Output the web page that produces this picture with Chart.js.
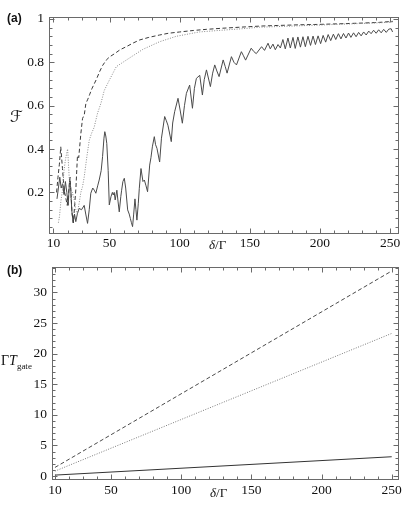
<!DOCTYPE html>
<html>
<head>
<meta charset="utf-8">
<title>Fidelity and gate time vs detuning</title>
<script src="https://cdn.jsdelivr.net/npm/chart.js@4"></script>
<style>
    html, body { margin: 0; padding: 0; background: #fff; }
    .panel { position: absolute; left: 0; width: 415px; }
    #panelA { top: 0; height: 252px; }
    #panelB { top: 252px; height: 256px; }
</style>
</head>
<body>
<div class="panel" id="panelA"><canvas id="chartA" width="415" height="252"></canvas></div>
<div class="panel" id="panelB"><canvas id="chartB" width="415" height="256"></canvas></div>
<script>
// ==========================================
// DATOS
// ==========================================

// (a) fidelidad F vs delta/Gamma
const solidX = [12.5, 13.5, 14.5, 15.5, 16.5, 17.5, 18.5, 19.5, 20.5, 21.5, 22.3, 23, 24, 25, 25.9, 27, 28.3, 30, 31.9, 33, 34.3, 35.5, 36.6, 38, 39.1, 40.2, 41.5, 42.6, 44, 45, 46, 46.6, 47.3, 48, 49, 49.8, 51, 52, 52.6, 53.3, 54, 55.2, 56, 56.9, 58, 58.6, 59.5, 60.5, 61.5, 62.9, 64, 64.8, 65.6, 66.4, 67.2, 68.1, 68.8, 69.5, 70.5, 71.2, 72.4, 73.8, 74.8, 76, 77.1, 78.6, 79.5, 80.5, 81.9, 82.8, 83.8, 85.7, 87, 89.3, 90.5, 91.6, 94, 95, 96.4, 98.8, 100.3, 101.9, 103.4, 104.8, 107.1, 109.1, 110.5, 111.9, 114.3, 116.2, 117.5, 119.1, 121.9, 123.5, 125, 126.5, 128.1, 131, 132.5, 133.8, 136.9, 138.7, 140.5, 144, 145.5, 147, 151, 152.8, 154.6, 158.4, 160.5, 163, 164.6, 166.5, 168.2, 170.1, 171.8, 173.6, 175.3, 177.2, 178.9, 180.8, 182.4, 184.3, 186.1, 187.9, 189.6, 191.5, 193.3, 195.1, 196.8, 198.7, 200.5, 202.3, 204.1, 205.9, 207.7, 209.6, 211.3, 213.2, 215, 216.8, 218.6, 220.4, 222.1, 224, 225.8, 227.6, 229.4, 231.2, 233, 234.8, 236.5, 238.3, 240.1, 241.9, 243.7, 245.5, 247.3, 249.1, 250.8, 251.8];
const solidF = [0.17, 0.22, 0.27, 0.22, 0.24, 0.19, 0.25, 0.2, 0.14, 0.26, 0.22, 0.12, 0.06, 0.1, 0.065, 0.1, 0.126, 0.12, 0.14, 0.1, 0.057, 0.12, 0.196, 0.22, 0.21, 0.196, 0.23, 0.257, 0.3, 0.365, 0.45, 0.48, 0.46, 0.426, 0.3, 0.142, 0.18, 0.2, 0.188, 0.2, 0.165, 0.21, 0.16, 0.11, 0.18, 0.21, 0.25, 0.265, 0.22, 0.119, 0.1, 0.08, 0.06, 0.042, 0.1, 0.17, 0.12, 0.072, 0.15, 0.219, 0.31, 0.25, 0.257, 0.23, 0.203, 0.326, 0.36, 0.41, 0.457, 0.42, 0.403, 0.34, 0.45, 0.55, 0.53, 0.51, 0.434, 0.52, 0.572, 0.634, 0.58, 0.519, 0.6, 0.657, 0.695, 0.588, 0.68, 0.726, 0.74, 0.649, 0.72, 0.765, 0.688, 0.75, 0.788, 0.76, 0.734, 0.811, 0.78, 0.75, 0.826, 0.8, 0.788, 0.849, 0.83, 0.81, 0.865, 0.85, 0.84, 0.872, 0.855, 0.888, 0.862, 0.884, 0.858, 0.882, 0.866, 0.905, 0.862, 0.912, 0.866, 0.915, 0.864, 0.917, 0.87, 0.918, 0.872, 0.92, 0.878, 0.921, 0.882, 0.922, 0.886, 0.924, 0.893, 0.928, 0.9, 0.93, 0.905, 0.932, 0.908, 0.933, 0.912, 0.935, 0.915, 0.936, 0.918, 0.938, 0.922, 0.94, 0.926, 0.944, 0.932, 0.948, 0.934, 0.95, 0.936, 0.952, 0.938, 0.953, 0.955, 0.94];

const dashedX = [12.2, 13.2, 14.2, 15.2, 16.4, 17.6, 18.6, 19.8, 20.8, 21.8, 22.5, 23.3, 24.2, 25.2, 26, 27.1, 28, 29.5, 30.7, 32, 33.1, 34.5, 35.7, 37.5, 40.5, 42.9, 45, 47.6, 50, 53.6, 57.5, 61.9, 66.5, 71.4, 78, 85.7, 92, 100, 110, 119, 130, 143, 157, 170, 185, 200, 215, 230, 242, 252];
const dashedF = [0.2, 0.27, 0.33, 0.41, 0.31, 0.21, 0.18, 0.14, 0.2, 0.27, 0.19, 0.1, 0.06, 0.15, 0.22, 0.37, 0.36, 0.47, 0.54, 0.56, 0.61, 0.63, 0.65, 0.68, 0.72, 0.757, 0.785, 0.81, 0.825, 0.84, 0.858, 0.872, 0.888, 0.903, 0.915, 0.926, 0.934, 0.94, 0.947, 0.952, 0.957, 0.962, 0.967, 0.97, 0.973, 0.975, 0.978, 0.981, 0.984, 0.989];

const dottedX = [13.5, 14.3, 15.3, 16.4, 17.5, 18.5, 19.4, 20.1, 21.2, 22.4, 23.5, 24.8, 25.9, 27, 28.3, 29.5, 30.7, 31.9, 33.8, 35.5, 37, 39, 41.4, 43.8, 46.2, 50, 54.8, 59.5, 66.6, 73.8, 85.7, 97.6, 114, 130, 145, 157, 175, 200, 225, 245, 252];
const dottedF = [0.06, 0.09, 0.16, 0.21, 0.3, 0.35, 0.38, 0.4, 0.27, 0.165, 0.2, 0.165, 0.12, 0.1, 0.15, 0.2, 0.226, 0.27, 0.365, 0.44, 0.47, 0.5, 0.565, 0.61, 0.67, 0.72, 0.78, 0.8, 0.83, 0.86, 0.895, 0.92, 0.94, 0.948, 0.955, 0.962, 0.966, 0.972, 0.978, 0.983, 0.986];

// (b) tiempo de compuerta Gamma*T_gate vs delta/Gamma
const gateX = [10, 250];
const gateSolid = [0.15, 3.15];
const gateDashed = [1.4, 33.5];
const gateDotted = [0.8, 23.3];

// marcas de los ejes
const xTicks = [10, 50, 100, 150, 200, 250];
const fTicks = [0.2, 0.4, 0.6, 0.8, 1];
const tTicks = [0, 5, 10, 15, 20, 25, 30];

// ==========================================
// AUXILIARES
// ==========================================
const SERIF = "'Liberation Serif', 'DejaVu Serif', serif";
const SANS = "'Liberation Sans', 'DejaVu Sans', sans-serif";

function toPoints(xs, ys) {
    return xs.map((v, i) => ({ x: v, y: ys[i] }));
}

function steps(from, to, step) {
    const vals = [];
    for (let v = from; v <= to + 1e-9; v += step) vals.push(+v.toFixed(4));
    return vals;
}

// marco con marcas hacia adentro en los cuatro lados
const frameTicks = {
    id: 'frameTicks',
    afterDatasetsDraw(chart, args, opts) {
        const { ctx, chartArea: a, scales: { x, y } } = chart;
        const L = a.left + 0.5, R = a.right - 0.5, T = a.top + 0.5, B = a.bottom - 0.5;
        ctx.save();
        ctx.strokeStyle = '#6a6a6a';
        ctx.lineWidth = 1;
        ctx.strokeRect(L, T, R - L, B - T);
        ctx.beginPath();
        const xMark = (v, len) => {
            const px = Math.round(x.getPixelForValue(v)) + 0.5;
            if (px < L || px > R) return;
            ctx.moveTo(px, B); ctx.lineTo(px, B - len);
            ctx.moveTo(px, T); ctx.lineTo(px, T + len);
        };
        const yMark = (v, len) => {
            const py = Math.round(y.getPixelForValue(v)) + 0.5;
            if (py < T || py > B) return;
            ctx.moveTo(L, py); ctx.lineTo(L + len, py);
            ctx.moveTo(R, py); ctx.lineTo(R - len, py);
        };
        opts.xMinor.forEach(v => xMark(v, 3));
        opts.yMinor.forEach(v => yMark(v, 3));
        opts.xMajor.forEach(v => xMark(v, 5));
        opts.yMajor.forEach(v => yMark(v, 5));
        ctx.stroke();
        ctx.restore();
    }
};

// textos: etiqueta del panel, eje y (horizontal) y delta/Gamma
const panelText = {
    id: 'panelText',
    afterDraw(chart, args, opts) {
        const ctx = chart.ctx;
        ctx.save();
        ctx.fillStyle = '#111';
        ctx.textBaseline = 'alphabetic';
        ctx.textAlign = 'left';
        ctx.font = 'bold 12px ' + SANS;
        ctx.fillText(opts.panel, 7, opts.panelY);

        // delta / Gamma
        ctx.font = 'italic 13px ' + SERIF;
        let x0 = opts.xLabel[0];
        ctx.fillText('δ', x0, opts.xLabel[1]);
        x0 += ctx.measureText('δ').width;
        ctx.font = '13px ' + SERIF;
        ctx.fillText('/Γ', x0, opts.xLabel[1]);

        opts.drawYLabel(ctx);
        ctx.restore();
    }
};

function baseOptions(cfg) {
    return {
        responsive: false,
        animation: false,
        layout: { padding: { top: cfg.top, right: 16, left: 0, bottom: 0 } },
        plugins: {
            legend: { display: false },
            tooltip: { enabled: false },
            frameTicks: cfg.frame,
            panelText: cfg.text
        },
        elements: { point: { radius: 0 }, line: { tension: 0, borderWidth: 1 } },
        scales: {
            x: {
                type: 'linear',
                min: cfg.xMin,
                max: cfg.xMax,
                grid: { display: false, drawTicks: false },
                border: { display: false },
                afterBuildTicks: s => { s.ticks = xTicks.map(v => ({ value: v })); },
                afterFit: s => { s.height = cfg.xHeight; },
                ticks: {
                    autoSkip: false, maxRotation: 0, padding: cfg.xPad,
                    color: '#111', font: { family: SERIF, size: 13.5 }
                }
            },
            y: {
                type: 'linear',
                min: cfg.yMin,
                max: cfg.yMax,
                grid: { display: false, drawTicks: false },
                border: { display: false },
                afterBuildTicks: s => { s.ticks = cfg.yTicks.map(v => ({ value: v })); },
                afterFit: s => { s.width = cfg.yWidth; },
                ticks: {
                    autoSkip: false, padding: 5,
                    color: '#111', font: { family: SERIF, size: 13.5 },
                    callback: cfg.yFormat
                }
            }
        }
    };
}

// ==========================================
// GRÁFICOS
// ==========================================
new Chart(document.getElementById('chartA'), {
    type: 'line',
    data: {
        datasets: [
            { data: toPoints(dottedX, dottedF), borderColor: '#8a8a8a', borderDash: [1, 1.5] },
            { data: toPoints(dashedX, dashedF), borderColor: '#3a3a3a', borderDash: [4, 2.5] },
            { data: toPoints(solidX, solidF), borderColor: '#4a4a4a' }
        ]
    },
    options: baseOptions({
        top: 17, xMin: 6.8, xMax: 256.4, yMin: 0.008, yMax: 1.009,
        xHeight: 18, yWidth: 49, xPad: 1, yTicks: fTicks,
        yFormat: v => (v === 1 ? '1' : v.toFixed(1)),
        frame: { xMajor: xTicks, yMajor: fTicks, xMinor: steps(10, 250, 10), yMinor: steps(0.04, 1, 0.04) },
        text: {
            panel: '(a)', panelY: 22, xLabel: [209, 249],
            drawYLabel: ctx => {
                ctx.font = 'italic 16px ' + SERIF + ", 'DejaVu Sans'";
                ctx.fillText('ℱ', 10, 122);
            }
        }
    }),
    plugins: [frameTicks, panelText]
});

new Chart(document.getElementById('chartB'), {
    type: 'line',
    data: {
        datasets: [
            { data: toPoints(gateX, gateDotted), borderColor: '#7a7a7a', borderDash: [1, 1.5] },
            { data: toPoints(gateX, gateDashed), borderColor: '#4a4a4a', borderDash: [4, 2.5] },
            { data: toPoints(gateX, gateSolid), borderColor: '#333' }
        ]
    },
    options: baseOptions({
        top: 15, xMin: 7.9, xMax: 255.2, yMin: -0.65, yMax: 34.15,
        xHeight: 28, yWidth: 52, xPad: 2, yTicks: tTicks,
        yFormat: v => String(v),
        frame: { xMajor: xTicks, yMajor: tTicks, xMinor: steps(10, 250, 10), yMinor: steps(0, 34, 1) },
        text: {
            panel: '(b)', panelY: 22, xLabel: [210, 245],
            drawYLabel: ctx => {
                ctx.font = '14px ' + SERIF;
                ctx.fillText('Γ', 1, 113);
                let x0 = 1 + ctx.measureText('Γ').width;
                ctx.font = 'italic 14px ' + SERIF;
                ctx.fillText('T', x0, 113);
                x0 += ctx.measureText('T').width;
                ctx.font = '9px ' + SERIF;
                ctx.fillText('gate', x0, 117);
            }
        }
    }),
    plugins: [frameTicks, panelText]
});
</script>
</body>
</html>
